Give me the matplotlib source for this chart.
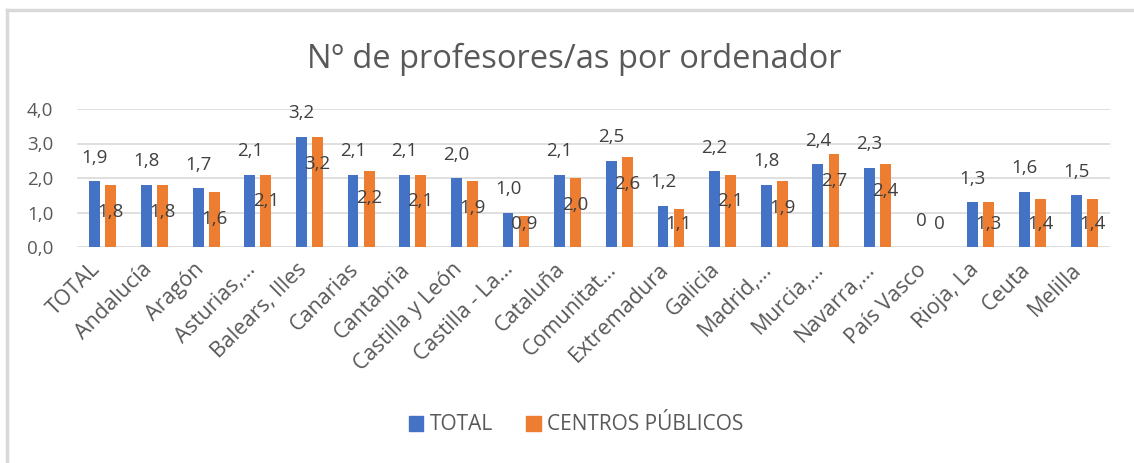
import matplotlib
matplotlib.use("Agg")
import matplotlib.pyplot as plt
from matplotlib.lines import Line2D
import numpy as np

categories = ["TOTAL", "Andalucía", "Aragón", "Asturias,…", "Balears, Illes",
              "Canarias", "Cantabria", "Castilla y León", "Castilla - La…",
              "Cataluña", "Comunitat…", "Extremadura", "Galicia", "Madrid,…",
              "Murcia,…", "Navarra,…", "País Vasco", "Rioja, La", "Ceuta", "Melilla"]
total = [1.9, 1.8, 1.7, 2.1, 3.2, 2.1, 2.1, 2.0, 1.0, 2.1, 2.5, 1.2, 2.2, 1.8, 2.4, 2.3, 0, 1.3, 1.6, 1.5]
publicos = [1.8, 1.8, 1.6, 2.1, 3.2, 2.2, 2.1, 1.9, 0.9, 2.0, 2.6, 1.1, 2.1, 1.9, 2.7, 2.4, 0, 1.3, 1.4, 1.4]
yticks = [0, 1, 2, 3, 4]

BLUE = "#4472C4"
ORANGE = "#ED7D31"
TXT = "#595959"
GRID = "#D9D9D9"
FONT = "Open Sans"
plt.rcParams["font.family"] = [FONT, "DejaVu Sans"]

def fmt(v):
    return "0" if v == 0 else f"{v:.1f}".replace(".", ",")

fig = plt.figure(figsize=(11.34, 4.63), dpi=100)
ax = fig.add_axes([77/1134, (463-247)/463, (1110-77)/1134, (247-109)/463])

x = np.arange(len(categories))
w = 0.21
off = 0.155
ax.bar(x - off, total, w, color=BLUE, zorder=3)
ax.bar(x + off, publicos, w, color=ORANGE, zorder=3)

for xi, v in zip(x, total):
    ax.text(xi - off, max(v + 0.68, 0.75), fmt(v), ha="center", va="center",
            fontsize=13.5, color="#404040", zorder=4)
for xi, v in zip(x, publicos):
    ax.text(xi + off + (0.05 if v == 0 else 0), max(v - 0.78, 0.66), fmt(v), ha="center", va="center",
            fontsize=13.5, color="#404040", zorder=4)

ax.set_ylim(0, 4)
ax.set_xlim(-0.5, len(categories) - 0.5)
ax.set_yticks(yticks)
ax.set_yticklabels([f"{t:.1f}".replace(".", ",") for t in yticks], color=TXT, fontsize=13.5)
ax.set_xticks(x)
ax.set_xticklabels([])
for xi, cat in zip(x, categories):
    ax.annotate(cat, xy=(xi, 0), xycoords=("data", "axes fraction"),
                xytext=(-4, -14), textcoords="offset points",
                rotation=45, ha="right", va="center", rotation_mode="anchor",
                color=TXT, fontsize=15.5, annotation_clip=False)
ax.tick_params(axis="both", length=0)
ax.tick_params(axis="y", pad=17)
ax.grid(axis="y", color=GRID, linewidth=1.2, zorder=0)
for s in ax.spines.values():
    s.set_visible(False)

fig.text(574/1134, 1 - 59/463, "Nº de profesores/as por ordenador", ha="center", va="center",
         fontsize=23.5, color=TXT)

handles = [plt.Rectangle((0, 0), 1, 1, color=BLUE), plt.Rectangle((0, 0), 1, 1, color=ORANGE)]
fig.legend(handles, ["TOTAL", "CENTROS PÚBLICOS"], loc="center", bbox_to_anchor=(576/1134, 1 - 425/463),
           ncol=2, frameon=False, fontsize=15, labelcolor=TXT, handlelength=0.7, handleheight=0.7,
           handletextpad=0.3, columnspacing=1.6)

fig.add_artist(Line2D([7/1134, 7/1134], [0, 1 - 10/463], transform=fig.transFigure, color=GRID, linewidth=2.5))
fig.add_artist(Line2D([7/1134, 1], [1 - 10/463, 1 - 10/463], transform=fig.transFigure, color=GRID, linewidth=2.5))

fig.savefig("out.png", dpi=100)
